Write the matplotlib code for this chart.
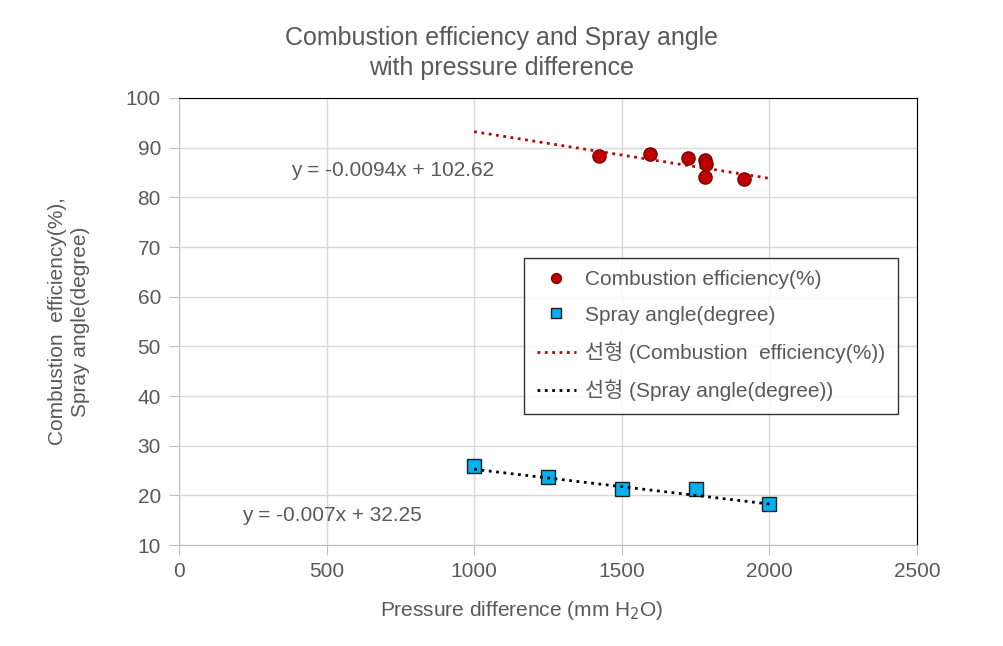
import numpy as np
import matplotlib.pyplot as plt

plt.rcParams['font.family'] = ['Liberation Sans', 'Noto Sans CJK KR', 'DejaVu Sans']

# data
ce_x = [1423, 1596, 1724, 1782, 1785, 1782, 1914]
ce_y = [88.3, 88.7, 87.9, 87.5, 86.8, 84.0, 83.6]
sa_x = [1000, 1250, 1500, 1750, 2000]
sa_y = [25.9, 23.6, 21.3, 21.3, 18.2]

ce_slope, ce_icpt = -0.0094, 102.62
sa_slope, sa_icpt = -0.007, 32.25
trend_x = np.array([1000, 2000])

txt = '#595959'
fs = 15
fig = plt.figure(figsize=(10.04, 6.46), dpi=100)
ax = fig.add_axes([0.1783, 0.1563, 0.735, 0.692])

ax.plot(ce_x, ce_y, 'o', ms=9.5, mfc='#c00000', mec='#7f0000', mew=1,
        label='Combustion efficiency(%)', zorder=4)
ax.plot(sa_x, sa_y, 's', ms=9.5, mfc='#00b0f0', mec='#1f1f1f', mew=1,
        label='Spray angle(degree)', zorder=4)
ax.plot(trend_x, ce_slope * trend_x + ce_icpt, ':', color='#c00000', lw=2,
        label='선형 (Combustion  efficiency(%))', zorder=3)
ax.plot(trend_x, sa_slope * trend_x + sa_icpt, ':', color='black', lw=2,
        label='선형 (Spray angle(degree))', zorder=5)

ax.set_xlim(0, 2500)
ax.set_ylim(10, 100)
ax.set_xticks(range(0, 2501, 500))
ax.set_yticks(range(10, 101, 10))
ax.grid(True, color='#d9d9d9', lw=1)
ax.set_axisbelow(True)
ax.tick_params(colors='#bfbfbf', labelcolor=txt, labelsize=fs, length=7)
ax.tick_params(axis='y', pad=6)
ax.tick_params(axis='x', pad=5.5)
for s in ['top', 'right']:
    ax.spines[s].set_color('black')
for s in ['left', 'bottom']:
    ax.spines[s].set_color('#bfbfbf')

ax.text(380, 85.5, 'y = -0.0094x + 102.62', fontsize=fs, color=txt, ha='left', va='center')
ax.text(215, 16, 'y = -0.007x + 32.25', fontsize=fs, color=txt, ha='left', va='center')

ax.set_xlabel('Pressure difference (mm H$_2$O)', fontsize=fs, color=txt, labelpad=13)
ax.xaxis.label.set_position((0.465, 0))
ax.set_ylabel('Combustion  efficiency(%),\nSpray angle(degree)', fontsize=fs, color=txt,
              labelpad=26, linespacing=1.25)
fig.suptitle('Combustion efficiency and Spray angle\nwith pressure difference',
             fontsize=18, color=txt, x=0.5, y=0.96, linespacing=1.3)

leg = ax.legend(loc='upper left', bbox_to_anchor=(0.4675, 0.643), borderaxespad=0,
                fontsize=fs, frameon=True, fancybox=False, edgecolor='black',
                handlelength=1.9, handletextpad=0.45, labelspacing=0.8,
                borderpad=0.6, labelcolor=txt, markerscale=0.75)
leg.get_frame().set_linewidth(1)

fig.savefig('out.png', dpi=100)
